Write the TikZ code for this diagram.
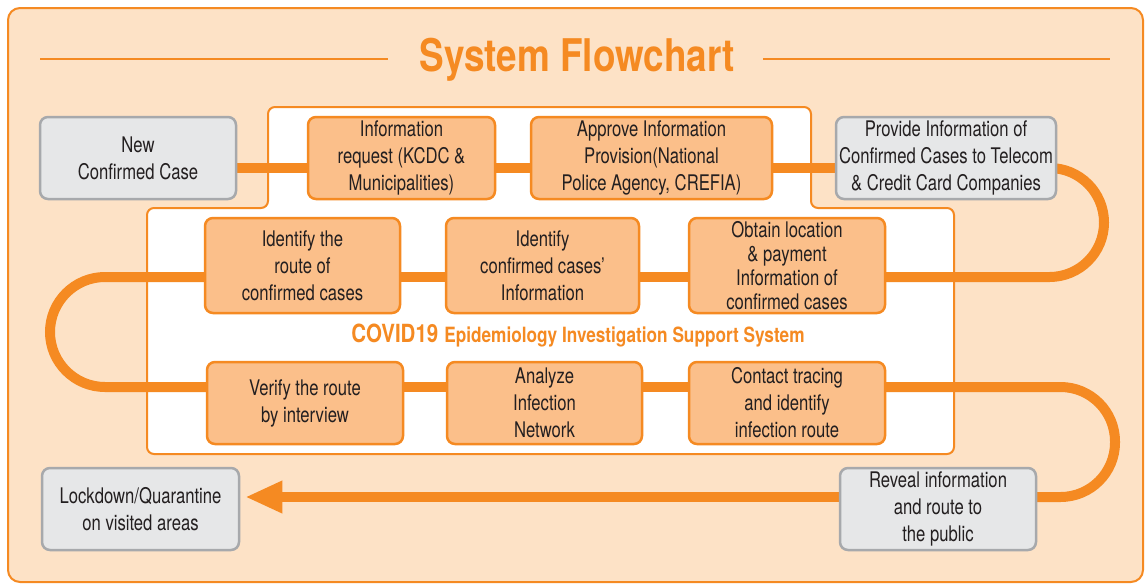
\documentclass[tikz,border=0pt]{standalone}
\usepackage{fontspec}
\setmainfont{TeX Gyre Heros}[FakeStretch=0.775]
\newfontfamily\headfont{TeX Gyre Heros}[FakeStretch=0.82]
\usetikzlibrary{arrows.meta}

\definecolor{ora}{HTML}{F58A22}
\definecolor{bgpeach}{HTML}{FDE2C6}
\definecolor{boxfill}{HTML}{FBBF8A}
\definecolor{greyfill}{HTML}{E6E7E8}
\definecolor{greyline}{HTML}{A7A9AC}
\definecolor{ink}{HTML}{231F20}

\pgfdeclarelayer{panel}
\pgfdeclarelayer{lines}
\pgfsetlayers{panel,lines,main}

\tikzset{
  stepbox/.style={draw=ora, fill=boxfill, line width=2.5pt, rounded corners=8pt,
    align=center, text=ink, inner sep=0pt,
    font=\fontsize{21.5}{27}\selectfont},
  greybox/.style={stepbox, draw=greyline, fill=greyfill},
  flow/.style={draw=ora, line width=10pt},
  sz/.style 2 args={minimum width=#1pt, minimum height=#2pt},
}

\begin{document}
\begin{tikzpicture}[x=1pt, y=-1pt]
\useasboundingbox (0,0) rectangle (1147,584);

% step boxes
\node[greybox, sz={196}{82}] (new) at (138,158) {New\\Confirmed Case};
\node[stepbox, sz={187}{82}] (req) at (401.5,158) {Information\\request (KCDC \&\\Municipalities)};
\node[stepbox, sz={241}{82}] (appr) at (651.5,158) {Approve Information\\Provision(National\\Police Agency, CREFIA)};
\node[greybox, sz={220}{82}] (prov) at (946,158) {Provide Information of\\Confirmed Cases to Telecom\\\& Credit Card Companies};

\node[stepbox, sz={195}{95}] (route) at (302.5,265.5) {Identify the\\route of\\confirmed cases};
\node[stepbox, sz={193}{95}] (cases) at (542.5,265.5) {Identify\\confirmed cases'\\Information};
\node[stepbox, sz={196}{95}, font=\fontsize{21.5}{24}\selectfont] (obtain) at (787,265.5) {Obtain location\\\& payment\\Information of\\confirmed cases};

\node[stepbox, sz={196}{82}] (verify) at (305,403) {Verify the route\\by interview};
\node[stepbox, sz={195}{82}] (analyze) at (544.5,403) {Analyze\\Infection\\Network};
\node[stepbox, sz={196}{82}] (contact) at (787,403) {Contact tracing\\and identify\\infection route};

\node[greybox, sz={197}{82}] (lock) at (140.5,509) {Lockdown/Quarantine\\on visited areas};
\node[greybox, sz={196}{82}] (reveal) at (938,509) {Reveal information\\and route to\\the public};

% title and system label
\node[text=ora, font=\headfont\bfseries\fontsize{45}{45}\selectfont] (title) at (577,60) {System Flowchart};
\node[text=ora, font=\headfont\bfseries, inner sep=0pt] (sys) at (578,336)
  {{\fontsize{25}{25}\selectfont COVID19}\hspace{6pt}{\fontsize{21}{21}\selectfont Epidemiology Investigation Support System}};

\coordinate (rA) at (1104,0);
\coordinate (lA) at (50,0);
\coordinate (rB) at (1115,0);

\begin{pgfonlayer}{panel}
  \draw[ora, line width=2pt, fill=bgpeach, rounded corners=12pt] (8,8) rectangle (1143,582);
  \draw[ora, line width=2pt] (40,59) -- (388,59);
  \draw[ora, line width=2pt] (763,59) -- (1110,59);
  \draw[ora, line width=2pt, fill=white, rounded corners=7pt]
    (268,107) -- (811,107) -- (811,208) -- (954,208) -- (954,454)
    -- (147,454) -- (147,208) -- (268,208) -- cycle;
\end{pgfonlayer}

\begin{pgfonlayer}{lines}
  \draw[flow] ([yshift=-10pt]new.center) -- ([yshift=-10pt]req.center);
  \draw[flow] ([yshift=-10pt]req.center) -- ([yshift=-10pt]appr.center);
  \draw[flow] ([yshift=-10pt]appr.center) -- ([yshift=-10pt]prov.center);
  \draw[flow, rounded corners=54.5pt] ([yshift=-10pt]prov.center) -- ([yshift=-10pt]prov.center -| rA)
    -- ([yshift=-11.5pt]obtain.center -| rA) -- ([yshift=-11.5pt]obtain.center);
  \draw[flow] ([yshift=-11.5pt]obtain.center) -- ([yshift=-11.5pt]cases.center);
  \draw[flow] ([yshift=-11.5pt]cases.center) -- ([yshift=-11.5pt]route.center);
  \draw[flow, rounded corners=55pt] ([yshift=-11.5pt]route.center) -- ([yshift=-11.5pt]route.center -| lA)
    -- ([yshift=16pt]verify.center -| lA) -- ([yshift=16pt]verify.center);
  \draw[flow] ([yshift=16pt]verify.center) -- ([yshift=16pt]analyze.center);
  \draw[flow] ([yshift=16pt]analyze.center) -- ([yshift=16pt]contact.center);
  \draw[flow, rounded corners=54.5pt] ([yshift=16pt]contact.center) -- ([yshift=16pt]contact.center -| rB)
    -- ([yshift=12pt]reveal.center -| rB) -- ([yshift=12pt]reveal.center);
  \draw[flow, -{Triangle[length=37pt, width=30pt]}] ([yshift=12pt]reveal.center) -- ([yshift=12pt, xshift=5pt]lock.east);
\end{pgfonlayer}
\end{tikzpicture}
\end{document}
